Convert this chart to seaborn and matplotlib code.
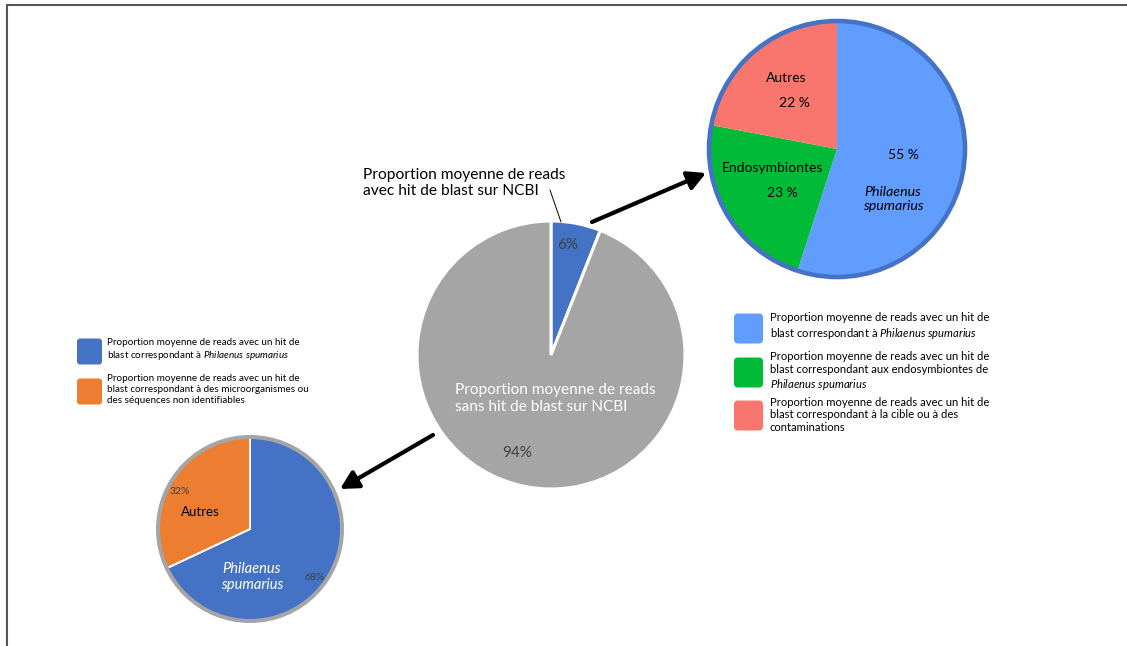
import matplotlib
matplotlib.use("Agg")
import matplotlib.pyplot as plt
from matplotlib.patches import Circle, FancyBboxPatch
import seaborn as sns

# ── Données ──────────────────────────────────────────────────────────────────
main_labels = ['avec hit', 'sans hit']
main_values = [6, 94]
main_colors = ['#4472C4', '#A5A5A5']

hit_labels = ['Philaenus spumarius', 'Endosymbiontes', 'Autres']
hit_values = [55, 23, 22]
hit_colors = ['#619CFF', '#00BA38', '#F8766D']

nohit_labels = ['Philaenus spumarius', 'Autres']
nohit_values = [68, 32]
nohit_colors = ['#4472C4', '#ED7D31']

hit_legend = [
    'Proportion moyenne de reads avec un hit de\nblast correspondant à $\\mathit{Philaenus\\ spumarius}$',
    'Proportion moyenne de reads avec un hit de\nblast correspondant aux endosymbiontes de\n$\\mathit{Philaenus\\ spumarius}$',
    'Proportion moyenne de reads avec un hit de\nblast correspondant à la cible ou à des\ncontaminations',
]
nohit_legend = [
    'Proportion moyenne de reads avec un hit de\nblast correspondant à $\\mathit{Philaenus\\ spumarius}$',
    'Proportion moyenne de reads avec un hit de\nblast correspondant à des microorganismes ou\ndes séquences non identifiables',
]

# ── Style ────────────────────────────────────────────────────────────────────
sns.set_theme(style='white')
plt.rcParams['font.family'] = ['Lato', 'DejaVu Sans']
plt.rcParams['mathtext.fontset'] = 'custom'
plt.rcParams['mathtext.rm'] = 'Lato'
plt.rcParams['mathtext.it'] = 'Lato:italic'

W, H = 1127, 646
DARK = '#404040'
fig = plt.figure(figsize=(W / 100, H / 100), dpi=100)
fig.patch.set_facecolor('white')
ax = fig.add_axes([0, 0, 1, 1])


def Y(py):
    # coordonnées "pixel" (origine en haut) -> données
    return H - py


def draw_pie(values, colors, cx, cy, r, edge_lw, ring=None, ring_lw=2.9):
    ax.pie(values, colors=sns.color_palette(colors), center=(cx, Y(cy)), radius=r,
           startangle=90, counterclock=False, frame=True,
           wedgeprops=dict(edgecolor='white', linewidth=edge_lw))
    if ring:
        ax.add_patch(Circle((cx, Y(cy)), r, fill=False, edgecolor=ring, lw=ring_lw, zorder=5))


# ── Camembert central ───────────────────────────────────────────────────────
draw_pie(main_values, main_colors, 551, 355, 134, 2.2)
ax.text(568, Y(245), f'{main_values[0]}%', color=DARK, fontsize=11, ha='center', va='center')
ax.text(517, Y(453), f'{main_values[1]}%', color=DARK, fontsize=11, ha='center', va='center')
ax.text(455, Y(398.5), 'Proportion moyenne de reads\nsans hit de blast sur NCBI',
        color='white', fontsize=11.1, ha='left', va='center', linespacing=1.25)
ax.text(363, Y(183), 'Proportion moyenne de reads\navec hit de blast sur NCBI',
        color='black', fontsize=11.2, ha='left', va='center', linespacing=1.25)
ax.plot([550, 561], [Y(190), Y(222)], color='black', lw=0.7)

# ── Camembert "avec hit" (haut droite) ──────────────────────────────────────
draw_pie(hit_values, hit_colors, 837, 149, 128, 0, ring='#4472C4', ring_lw=3.3)
ax.text(903, Y(155), f'{hit_values[0]} %', fontsize=10, ha='center', va='center', color='black')
ax.text(893, Y(199), 'Philaenus\nspumarius', fontsize=10.3, style='italic',
        ha='center', va='center', linespacing=1.15, color='black')
ax.text(772, Y(168), hit_labels[1], fontsize=10, ha='center', va='center', color='black')
ax.text(782, Y(193), f'{hit_values[1]} %', fontsize=10, ha='center', va='center', color='black')
ax.text(786, Y(78), hit_labels[2], fontsize=10, ha='center', va='center', color='black')
ax.text(794, Y(103), f'{hit_values[2]} %', fontsize=10, ha='center', va='center', color='black')

# ── Camembert "sans hit" (bas gauche) ───────────────────────────────────────
draw_pie(nohit_values, nohit_colors, 250, 529, 92, 1.4, ring='#A5A5A5')
ax.text(252, Y(577), 'Philaenus\nspumarius', fontsize=10.5, style='italic',
        ha='center', va='center', linespacing=1.2, color='white')
ax.text(315, Y(577), f'{nohit_values[0]}%', fontsize=7.5, ha='center', va='center', color=DARK)
ax.text(200, Y(512), nohit_labels[1], fontsize=9.5, ha='center', va='center', color='black')
ax.text(180, Y(491), f'{nohit_values[1]}%', fontsize=7.5, ha='center', va='center', color=DARK)

# ── Flèches ─────────────────────────────────────────────────────────────────
arrow = dict(arrowstyle='-|>,head_length=0.9,head_width=0.48', lw=3, color='black',
             mutation_scale=12, shrinkA=0, shrinkB=0)
ax.annotate('', xy=(706, Y(173)), xytext=(592, Y(222)), arrowprops=arrow)
ax.annotate('', xy=(340, Y(489)), xytext=(433, Y(435)), arrowprops=arrow)

# ── Légendes ────────────────────────────────────────────────────────────────
for i, (txt, col) in enumerate(zip(hit_legend, hit_colors)):
    yc = [328.5, 372.5, 415.5][i]
    ax.add_patch(FancyBboxPatch((734, Y(yc) - 15), 29, 30,
                                boxstyle='round,pad=0,rounding_size=4',
                                facecolor=col, edgecolor='none'))
    ax.text(770, Y([326.5, 372, 415][i]), txt, fontsize=8.1, ha='left', va='center',
            linespacing=1.2, color='black')

for i, (txt, col) in enumerate(zip(nohit_legend, nohit_colors)):
    yc = [351.5, 391.5][i]
    ax.add_patch(FancyBboxPatch((77, Y(yc) - 13), 25, 26,
                                boxstyle='round,pad=0,rounding_size=3',
                                facecolor=col, edgecolor='none'))
    ax.text(107, Y([350, 389.5][i]), txt, fontsize=7.1, ha='left', va='center',
            linespacing=1.25, color='black')

# ── Cadre ───────────────────────────────────────────────────────────────────
ax.plot([6, W], [Y(4.5), Y(4.5)], color='#555555', lw=1.5, solid_capstyle='butt')
ax.plot([6.5, 6.5], [Y(4), 0], color='#555555', lw=1.5, solid_capstyle='butt')

ax.set_xlim(0, W)
ax.set_ylim(0, H)
ax.set_aspect('auto')
ax.axis('off')

fig.savefig('out.png', dpi=100, facecolor='white')
